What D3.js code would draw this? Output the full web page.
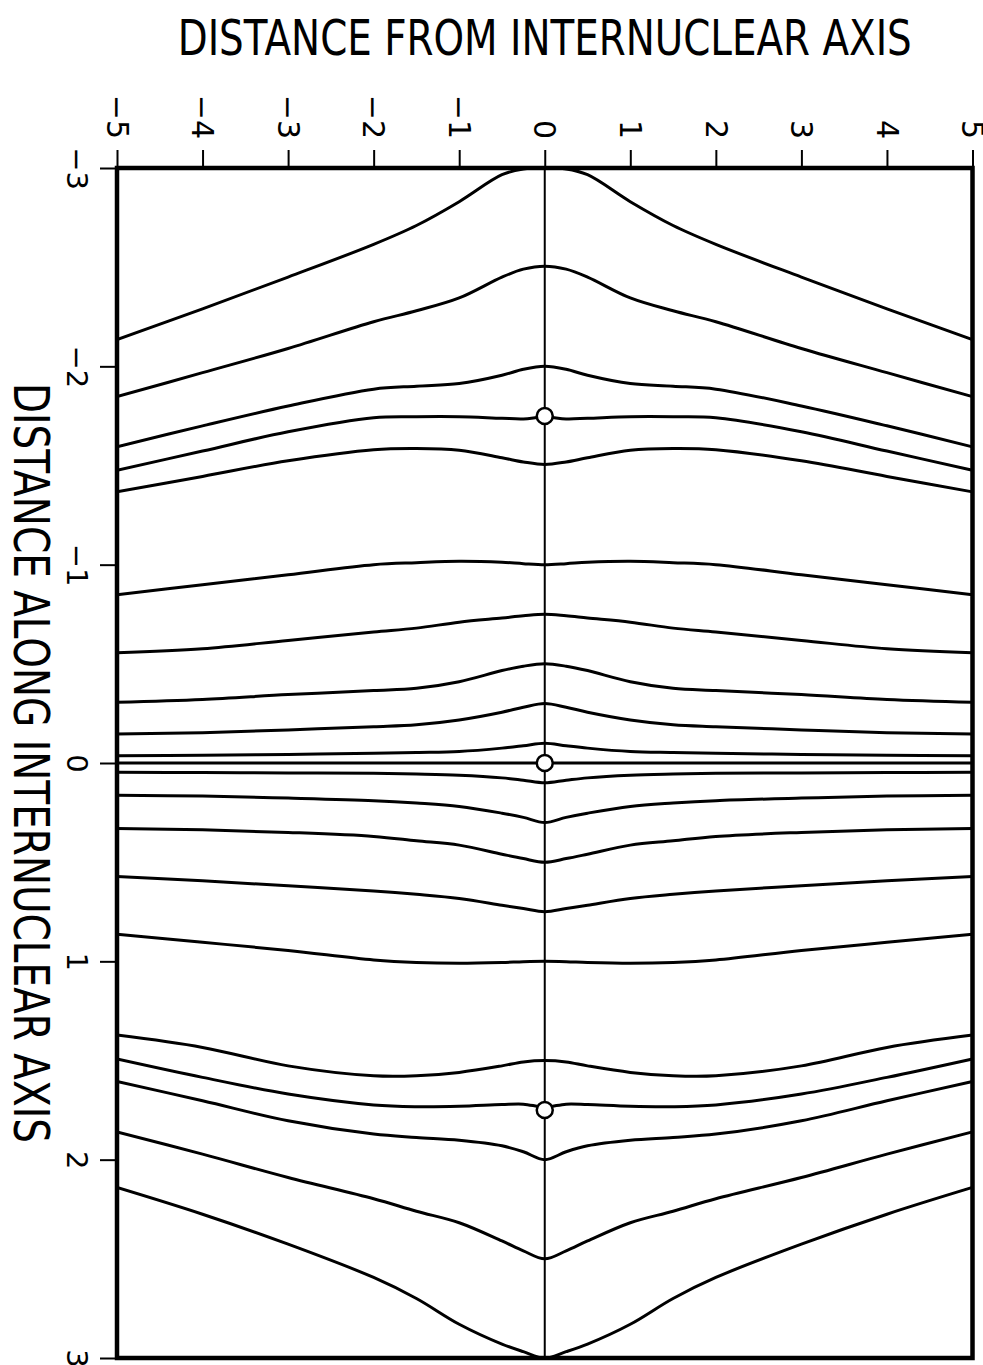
<!DOCTYPE html>
<html><head><meta charset="utf-8">
<script src="https://cdn.jsdelivr.net/npm/d3@7"></script>
<style>body{margin:0;background:#fff}svg{display:block}</style>
</head><body><svg id="c" width="983" height="1365"></svg>
<script>
// ---- data ----
const xValues = [-5, -4, -3, -2, -1.5, -1, -0.5, -0.25, 0, 0.25, 0.5, 1, 1.5, 2, 3, 4, 5];
const xTicks = [-5, -4, -3, -2, -1, 0, 1, 2, 3, 4, 5];
const yTicks = [-3, -2, -1, 0, 1, 2, 3];

const curve01 = [-2.135, -2.29, -2.45, -2.615, -2.71, -2.83, -2.966, -2.995, -3.0, -2.995, -2.966, -2.83, -2.71, -2.615, -2.45, -2.29, -2.135];
const curve02 = [-1.847, -1.968, -2.09, -2.225, -2.28, -2.345, -2.45, -2.49, -2.505, -2.49, -2.45, -2.345, -2.28, -2.225, -2.09, -1.968, -1.847];
const curve03 = [-1.594, -1.70, -1.80, -1.885, -1.90, -1.913, -1.955, -1.985, -2.0, -1.985, -1.955, -1.913, -1.90, -1.885, -1.80, -1.70, -1.594];
const curve04 = [-1.476, -1.573, -1.67, -1.741, -1.746, -1.746, -1.738, -1.735, -1.745, -1.735, -1.738, -1.746, -1.746, -1.741, -1.67, -1.573, -1.476];
const curve05 = [-1.367, -1.445, -1.524, -1.58, -1.586, -1.577, -1.539, -1.518, -1.505, -1.518, -1.539, -1.577, -1.586, -1.58, -1.524, -1.445, -1.367];
const curve06 = [-0.848, -0.899, -0.949, -1.0, -1.01, -1.017, -1.012, -1.005, -1.0, -1.005, -1.012, -1.017, -1.01, -1.0, -0.949, -0.899, -0.848];
const curve07 = [-0.556, -0.576, -0.618, -0.66, -0.68, -0.71, -0.731, -0.742, -0.75, -0.742, -0.731, -0.71, -0.68, -0.66, -0.618, -0.576, -0.556];
const curve08 = [-0.306, -0.32, -0.345, -0.365, -0.377, -0.41, -0.466, -0.488, -0.5, -0.488, -0.466, -0.41, -0.377, -0.365, -0.345, -0.32, -0.306];
const curve09 = [-0.146, -0.153, -0.167, -0.183, -0.193, -0.217, -0.256, -0.281, -0.3, -0.281, -0.256, -0.217, -0.193, -0.183, -0.167, -0.153, -0.146];
const curve10 = [-0.037, -0.039, -0.043, -0.049, -0.053, -0.058, -0.075, -0.087, -0.1, -0.087, -0.075, -0.058, -0.053, -0.049, -0.043, -0.039, -0.037];
const curve11 = [0, 0, 0, 0, 0, 0, 0, 0, 0, 0, 0, 0, 0, 0, 0, 0, 0];
const curve12 = [0.047, 0.048, 0.05, 0.052, 0.056, 0.062, 0.075, 0.087, 0.1, 0.087, 0.075, 0.062, 0.056, 0.052, 0.05, 0.048, 0.047];
const curve13 = [0.162, 0.167, 0.177, 0.19, 0.202, 0.219, 0.253, 0.274, 0.3, 0.274, 0.253, 0.219, 0.202, 0.19, 0.177, 0.167, 0.162];
const curve14 = [0.33, 0.337, 0.35, 0.37, 0.392, 0.414, 0.46, 0.482, 0.5, 0.482, 0.46, 0.414, 0.392, 0.37, 0.35, 0.337, 0.33];
const curve15 = [0.572, 0.594, 0.619, 0.645, 0.662, 0.683, 0.717, 0.734, 0.75, 0.734, 0.717, 0.683, 0.662, 0.645, 0.619, 0.594, 0.572];
const curve16 = [0.864, 0.904, 0.945, 0.993, 1.006, 1.01, 1.006, 1.002, 1.0, 1.002, 1.006, 1.01, 1.006, 0.993, 0.945, 0.904, 0.864];
const curve17 = [1.372, 1.434, 1.527, 1.577, 1.577, 1.56, 1.527, 1.507, 1.5, 1.507, 1.527, 1.56, 1.577, 1.577, 1.527, 1.434, 1.372];
const curve18 = [1.492, 1.585, 1.669, 1.724, 1.733, 1.731, 1.722, 1.72, 1.735, 1.72, 1.722, 1.731, 1.733, 1.724, 1.669, 1.585, 1.492];
const curve19 = [1.606, 1.703, 1.804, 1.871, 1.888, 1.902, 1.93, 1.96, 2.0, 1.96, 1.93, 1.902, 1.888, 1.871, 1.804, 1.703, 1.606];
const curve20 = [1.86, 1.972, 2.09, 2.197, 2.26, 2.318, 2.41, 2.46, 2.5, 2.46, 2.41, 2.318, 2.26, 2.197, 2.09, 1.972, 1.86];
const curve21 = [2.14, 2.275, 2.426, 2.594, 2.70, 2.83, 2.93, 2.968, 3.0, 2.968, 2.93, 2.83, 2.70, 2.594, 2.426, 2.275, 2.14];

const curves = [curve01, curve02, curve03, curve04, curve05, curve06, curve07, curve08, curve09, curve10, curve11,
                curve12, curve13, curve14, curve15, curve16, curve17, curve18, curve19, curve20, curve21];
const nucleiAlong = [-1.75, 0, 1.75];
const nucleiFrom = [0, 0, 0];
const topTitle = "DISTANCE FROM INTERNUCLEAR AXIS";
const sideTitle = "DISTANCE ALONG INTERNUCLEAR AXIS";

// ---- drawing ----
const FONT = "'DejaVu Sans', 'Liberation Sans', sans-serif";
const svg = d3.select("#c");
const x = d3.scaleLinear().domain([-5, 5]).range([117, 972.5]);
const y = d3.scaleLinear().domain([-3, 3]).range([168, 1358]);

svg.append("defs").append("clipPath").attr("id", "plotclip")
  .append("rect").attr("x", x(-5)).attr("y", y(-3)).attr("width", x(5) - x(-5)).attr("height", y(3) - y(-3));

// center vertical line (x = 0)
svg.append("line")
  .attr("x1", x(0)).attr("x2", x(0)).attr("y1", y(-3)).attr("y2", y(3))
  .attr("stroke", "#000").attr("stroke-width", 2);

// curves
const line = d3.line()
  .x((d, i) => x(xValues[i]))
  .y(d => y(d))
  .curve(d3.curveCatmullRom.alpha(0.5));

svg.append("g").attr("clip-path", "url(#plotclip)")
  .selectAll("path").data(curves).join("path")
  .attr("d", d => line(d))
  .attr("fill", "none").attr("stroke", "#000").attr("stroke-width", 3)
  .attr("stroke-linejoin", "round");

// nuclei
svg.append("g").selectAll("circle").data(nucleiAlong).join("circle")
  .attr("cx", (d, i) => x(nucleiFrom[i])).attr("cy", d => y(d)).attr("r", 8)
  .attr("fill", "#fff").attr("stroke", "#000").attr("stroke-width", 2.5);

// frame
svg.append("rect")
  .attr("x", x(-5)).attr("y", y(-3)).attr("width", x(5) - x(-5)).attr("height", y(3) - y(-3))
  .attr("fill", "none").attr("stroke", "#000").attr("stroke-width", 4.5);

// top axis
const gTop = svg.append("g").attr("transform", `translate(0,${y(-3)})`)
  .call(d3.axisTop(x).tickValues(xTicks).tickSize(18).tickFormat(d3.format("d")));
gTop.select(".domain").remove();
gTop.selectAll(".tick line").attr("stroke", "#000").attr("stroke-width", 2);
gTop.selectAll(".tick text")
  .attr("x", 0).attr("y", 0).attr("dy", "0.36em")
  .attr("transform", "translate(0,-29) rotate(90)")
  .attr("text-anchor", "end")
  .attr("font-family", FONT).attr("font-size", 30).attr("fill", "#000");

// left axis
const gLeft = svg.append("g").attr("transform", `translate(${x(-5)},0)`)
  .call(d3.axisLeft(y).tickValues(yTicks).tickSize(17).tickFormat(d3.format("d")));
gLeft.select(".domain").remove();
gLeft.selectAll(".tick line").attr("stroke", "#000").attr("stroke-width", 2);
gLeft.selectAll(".tick text")
  .attr("x", 0).attr("y", 0).attr("dy", "0.36em")
  .attr("transform", "translate(-40,0) rotate(90)")
  .attr("text-anchor", "middle")
  .attr("font-family", FONT).attr("font-size", 29).attr("fill", "#000");

// titles
svg.append("text")
  .attr("x", x(0)).attr("y", 55)
  .attr("text-anchor", "middle")
  .attr("textLength", 734).attr("lengthAdjust", "spacingAndGlyphs")
  .attr("font-family", FONT).attr("font-size", 50).attr("fill", "#000")
  .text(topTitle);

svg.append("text")
  .attr("transform", `translate(14,${y(0)}) rotate(90)`)
  .attr("text-anchor", "middle")
  .attr("textLength", 760).attr("lengthAdjust", "spacingAndGlyphs")
  .attr("font-family", FONT).attr("font-size", 50).attr("fill", "#000")
  .text(sideTitle);
</script>
</body></html>
